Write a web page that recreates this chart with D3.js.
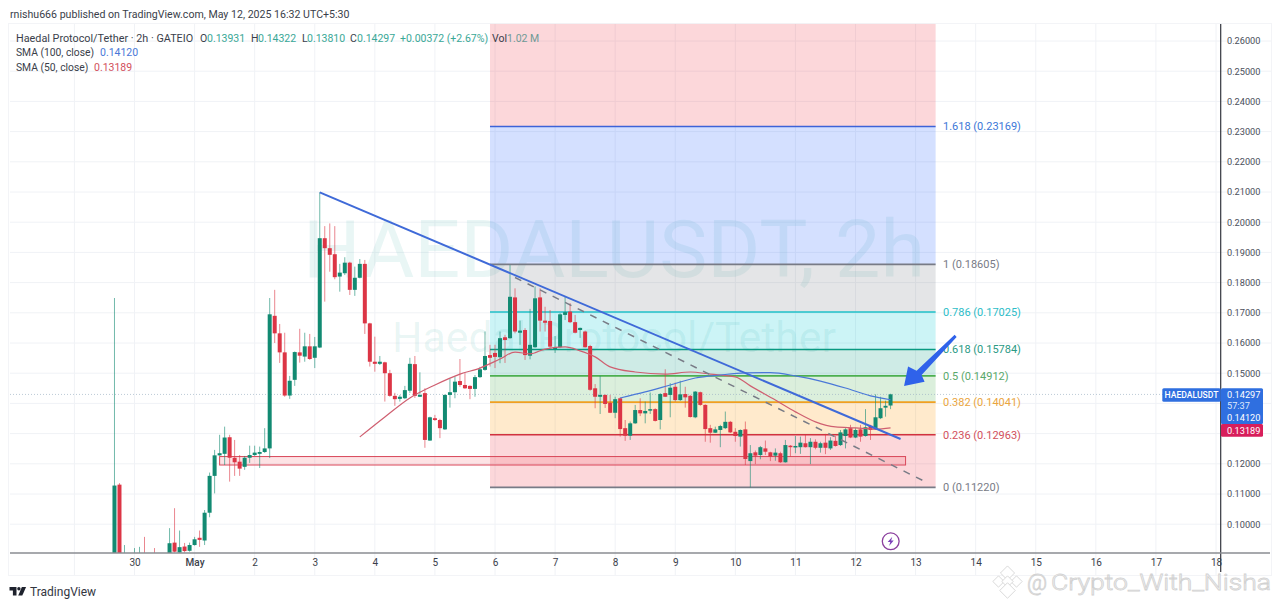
<!DOCTYPE html>
<html>
<head>
<meta charset="utf-8">
<script src="https://cdn.jsdelivr.net/npm/d3@7"></script>
<style>
    html, body { margin: 0; background: #fff; }
    svg { display: block; }
    text { font-family: Roboto, sans-serif; }
</style>
</head>
<body>
<div id="chart"></div>
<script>
// 2h candles, first bar is Apr 29 16:00
const firstBar = Date.UTC(2025, 3, 29, 16);
const barHours = 2;

const opens = [
    .0850,.1131,.0860,.0870,.0860,.0870,.0890,.0870,.0885,.0870,
    .0880,.0890,.0939,.0906,.0926,.0912,.0931,.0955,.0946,.1038,
    .1160,.1228,.1233,.1288,.1220,.1207,.1190,.1220,.1229,.1233,
    .1239,.1251,.1690,.1632,.1569,.1426,.1478,.1569,.1555,.1589,
    .1551,.1585,.1947,.1914,.1894,.1820,.1831,.1866,.1776,.1816,
    .1862,.1665,.1538,.1531,.1536,.1500,.1425,.1415,.1417,.1442,
    .1530,.1422,.1434,.1277,.1351,.1345,.1314,.1428,.1437,.1474,
    .1461,.1458,.1448,.1487,.1511,.1560,.1567,.1553,.1619,.1616,
    .1751,.1634,.1643,.1558,.1586,.1751,.1674,.1673,.1580,.1586,
    .1693,.1704,.1669,.1643,.1638,.1590,.1450,.1422,.1428,.1402,
    .1369,.1417,.1318,.1293,.1334,.1378,.1367,.1376,.1381,.1345,
    .1434,.1428,.1455,.1411,.1431,.1425,.1354,.1437,.1395,.1318,
    .1303,.1312,.1318,.1339,.1306,.1290,.1314,.1209,.1238,.1229,
    .1251,.1238,.1227,.1235,.1205,.1260,.1256,.1255,.1268,.1255,
    .1273,.1253,.1270,.1251,.1276,.1262,.1292,.1318,.1287,.1314,
    .1292,.1326,.1314,.1351,.1386,.1393
];
const closes = [
    .1128,.0850,.0880,.0880,.0880,.0885,.0870,.0880,.0870,.0885,
    .0890,.0937,.0909,.0924,.0911,.0931,.0950,.0948,.1038,.1160,
    .1228,.1235,.1287,.1220,.1205,.1184,.1220,.1229,.1237,.1239,
    .1251,.1695,.1632,.1569,.1426,.1475,.1570,.1558,.1589,.1547,
    .1589,.1947,.1914,.1892,.1818,.1833,.1866,.1776,.1816,.1862,
    .1665,.1538,.1531,.1538,.1500,.1425,.1414,.1422,.1444,.1531,
    .1425,.1428,.1279,.1354,.1345,.1318,.1428,.1437,.1472,.1461,
    .1450,.1448,.1487,.1513,.1557,.1551,.1554,.1616,.1610,.1753,
    .1638,.1641,.1560,.1594,.1748,.1674,.1667,.1588,.1586,.1695,
    .1702,.1669,.1634,.1650,.1586,.1445,.1422,.1428,.1398,.1369,
    .1414,.1315,.1293,.1334,.1378,.1367,.1375,.1381,.1342,.1431,
    .1422,.1452,.1411,.1430,.1420,.1355,.1439,.1395,.1315,.1303,
    .1314,.1325,.1339,.1304,.1292,.1312,.1216,.1235,.1227,.1255,
    .1240,.1224,.1237,.1205,.1262,.1255,.1259,.1270,.1255,.1273,
    .1253,.1268,.1253,.1277,.1259,.1304,.1314,.1287,.1312,.1290,
    .1321,.1312,.1354,.1384,.1392,.1430
];
const highs = [
    .1749,.1136,.0931,.0890,.0921,.0925,.0958,.0895,.0921,.0895,
    .0895,.0987,.1053,.0979,.0938,.0939,.0958,.0979,.1047,.1171,
    .1246,.1296,.1323,.1296,.1279,.1229,.1226,.1260,.1260,.1257,
    .1318,.1749,.1776,.1663,.1634,.1491,.1572,.1647,.1634,.1630,
    .1620,.2099,.1987,.1996,.1987,.1862,.1884,.1869,.1853,.1878,
    .1875,.1667,.1621,.1557,.1538,.1511,.1435,.1428,.1458,.1551,
    .1557,.1503,.1450,.1356,.1362,.1349,.1430,.1483,.1489,.1547,
    .1500,.1460,.1494,.1521,.1638,.1594,.1594,.1638,.1627,.1858,
    .1781,.1674,.1649,.1713,.1787,.1781,.1720,.1709,.1623,.1699,
    .1753,.1732,.1693,.1651,.1641,.1594,.1464,.1491,.1430,.1428,
    .1422,.1420,.1345,.1340,.1395,.1417,.1406,.1436,.1384,.1434,
    .1513,.1467,.1469,.1475,.1455,.1428,.1441,.1439,.1397,.1329,
    .1323,.1329,.1373,.1342,.1318,.1314,.1340,.1262,.1244,.1259,
    .1277,.1240,.1251,.1240,.1279,.1262,.1292,.1290,.1296,.1285,
    .1281,.1273,.1299,.1288,.1292,.1312,.1318,.1329,.1318,.1329,
    .1381,.1329,.1430,.1422,.1409,.1432
];
const lows = [
    .0800,.0800,.0850,.0850,.0840,.0850,.0850,.0850,.0850,.0855,
    .0860,.0870,.0906,.0905,.0906,.0909,.0929,.0925,.0931,.1023,
    .1102,.1226,.1196,.1141,.1160,.1160,.1180,.1203,.1226,.1186,
    .1236,.1219,.1600,.1534,.1422,.1415,.1458,.1535,.1538,.1544,
    .1517,.1583,.1737,.1836,.1811,.1770,.1825,.1759,.1756,.1814,
    .1630,.1522,.1505,.1527,.1406,.1422,.1392,.1406,.1414,.1435,
    .1418,.1421,.1253,.1276,.1342,.1285,.1312,.1386,.1417,.1455,
    .1448,.1414,.1422,.1484,.1508,.1522,.1517,.1533,.1534,.1614,
    .1632,.1594,.1544,.1546,.1584,.1638,.1638,.1583,.1567,.1583,
    .1676,.1666,.1632,.1617,.1585,.1442,.1384,.1365,.1385,.1368,
    .1351,.1290,.1276,.1279,.1332,.1358,.1334,.1365,.1340,.1314,
    .1421,.1354,.1406,.1408,.1386,.1353,.1351,.1392,.1273,.1270,
    .1302,.1255,.1315,.1302,.1273,.1257,.1196,.1122,.1199,.1215,
    .1229,.1209,.1210,.1203,.1204,.1224,.1235,.1233,.1254,.1199,
    .1248,.1237,.1232,.1246,.1257,.1259,.1251,.1285,.1285,.1273,
    .1290,.1279,.1312,.1348,.1356,.1381
];

const sma100Bars = [101, 106, 111, 116, 121, 126, 131, 136, 141, 146, 151, 155];
const sma100Values = [.1418, .1438, .1461, .1484, .1494, .1501, .1502, .1491, .1474, .1451, .1425, .1412];
const sma50Bars = [49, 54, 59, 64, 69, 73, 77, 80, 83, 86, 90, 93, 96, 99, 104, 110, 115, 119, 124, 127, 132, 136, 140, 144, 148, 152, 155];
const sma50Values = [.1289, .1355, .1418, .1461, .1497, .1517, .1547, .1570, .1564, .1580, .1587, .1574, .1554, .1521, .1504, .1497, .1504, .1497, .1488, .1458, .1411, .1372, .1339, .1322, .1319, .1315, .1319];

// fib retracement
const fibLevels = ["0", "0.236", "0.382", "0.5", "0.618", "0.786", "1", "1.618"];
const fibPrices = [.11220, .12963, .14041, .14912, .15784, .17025, .18605, .23169];
const fibColors = ["#787b86", "#d1323f", "#f0a020", "#4caf50", "#089981", "#1fc0c8", "#787b86", "#3d63d8"];
const fibLabelColors = ["#787b86", "#d2505c", "#eaa53e", "#5aa86a", "#2a9a85", "#2dbdc8", "#787b86", "#3d78d8"];
const fibFills = ["#f23645", "#ff9800", "#4caf50", "#089981", "#00c8d0", "#787b86", "#2962ff", "#f23645"];
const fibTopPrice = .26565;
const fibBars = [75, 164];

// drawings on the chart
const trendBars = [41, 157];
const trendPrices = [.2099, .1282];
const dashBars = [80, 162];
const dashPrices = [.1817, .1140];
const zoneBars = [21, 158];
const zonePrices = [.1224, .1196];
const arrowBars = [157.7, 158.5, 160.2, 167.8, 168.2, 161.2, 161.8];
const arrowPrices = [.1458, .1522, .1508, .1627, .1620, .1494, .1472];

const priceTicks = [.10, .11, .12, .13, .14, .15, .16, .17, .18, .19, .20, .21, .22, .23, .24, .25, .26];
// these two sit behind the price tags
const coveredTicks = [.13, .14];
const dayTicks = ["2025-04-30", "2025-05-01", "2025-05-02", "2025-05-03", "2025-05-04", "2025-05-05", "2025-05-06", "2025-05-07", "2025-05-08", "2025-05-09", "2025-05-10", "2025-05-11", "2025-05-12", "2025-05-13", "2025-05-14", "2025-05-15", "2025-05-16", "2025-05-17", "2025-05-18"];
const dayLabels = ["30", "May", "2", "3", "4", "5", "6", "7", "8", "9", "10", "11", "12", "13", "14", "15", "16", "17", "18"];

const lastClose = .14297;
const lastSma100 = .14120;
const lastSma50 = .13189;

const width = 1280;
const height = 607;
const pane = { left: 10, right: 1221, top: 24, bottom: 553 };

const xScale = d3.scaleUtc()
    .domain([new Date(dayTicks[0]), new Date(dayTicks[dayTicks.length - 1])])
    .range([134.5, 1216]);
const yScale = d3.scaleLinear()
    .domain([.10, .26])
    .range([524.2, 41]);

const barTime = (i) => new Date(firstBar + i * barHours * 3600000);
const barX = (i) => xScale(barTime(i));

const svg = d3.select("#chart")
    .append("svg")
    .attr("width", width)
    .attr("height", height);

svg.append("defs").append("clipPath")
    .attr("id", "pane")
    .append("rect")
    .attr("x", pane.left)
    .attr("y", pane.top)
    .attr("width", pane.right - pane.left)
    .attr("height", pane.bottom - pane.top);

// frame and grid
svg.append("rect")
    .attr("x", 8.5)
    .attr("y", 23.5)
    .attr("width", 1263)
    .attr("height", 552)
    .attr("fill", "none")
    .attr("stroke", "#f3f4f7");

const grid = svg.append("g").attr("stroke", "#f0f2f6");
grid.selectAll(".hgrid")
    .data(priceTicks)
    .enter()
    .append("line")
    .attr("x1", pane.left)
    .attr("x2", 1271)
    .attr("y1", d => yScale(d))
    .attr("y2", d => yScale(d));
grid.selectAll(".vgrid")
    .data(["2025-04-29"].concat(dayTicks))
    .enter()
    .append("line")
    .attr("x1", d => xScale(new Date(d)))
    .attr("x2", d => xScale(new Date(d)))
    .attr("y1", pane.top)
    .attr("y2", 575);

// symbol watermark
svg.append("text")
    .attr("x", 303)
    .attr("y", 277)
    .attr("textLength", 622)
    .attr("lengthAdjust", "spacingAndGlyphs")
    .style("font-size", "80px")
    .attr("fill", "#26a69a")
    .attr("fill-opacity", 0.1)
    .text("HAEDALUSDT, 2h");
svg.append("text")
    .attr("x", 392)
    .attr("y", 352)
    .attr("textLength", 444)
    .attr("lengthAdjust", "spacingAndGlyphs")
    .style("font-size", "42px")
    .attr("fill", "#26a69a")
    .attr("fill-opacity", 0.1)
    .text("Haedal Protocol/Tether");

// fib bands, each one runs from its level up to the next
const fib = svg.append("g");
const fibTops = fibPrices.slice(1).concat([fibTopPrice]);
fib.selectAll(".band")
    .data(fibPrices)
    .enter()
    .append("rect")
    .attr("x", barX(fibBars[0]))
    .attr("width", barX(fibBars[1]) - barX(fibBars[0]))
    .attr("y", (d, i) => yScale(fibTops[i]))
    .attr("height", (d, i) => yScale(d) - yScale(fibTops[i]))
    .attr("fill", (d, i) => fibFills[i])
    .attr("fill-opacity", 0.2);
fib.selectAll(".level")
    .data(fibPrices)
    .enter()
    .append("line")
    .attr("x1", barX(fibBars[0]))
    .attr("x2", barX(fibBars[1]))
    .attr("y1", d => yScale(d))
    .attr("y2", d => yScale(d))
    .attr("stroke", (d, i) => fibColors[i])
    .attr("stroke-width", 1.6);
fib.selectAll(".label")
    .data(fibPrices)
    .enter()
    .append("text")
    .attr("x", 943)
    .attr("y", d => yScale(d))
    .attr("dy", "0.36em")
    .attr("fill", (d, i) => fibLabelColors[i])
    .style("font-size", "11px")
    .text((d, i) => `${fibLevels[i]} (${d.toFixed(5)})`);

// last price line
svg.append("line")
    .attr("x1", pane.left)
    .attr("x2", pane.right)
    .attr("y1", yScale(lastClose))
    .attr("y2", yScale(lastClose))
    .attr("stroke", "#9fb4c4")
    .attr("stroke-opacity", 0.7)
    .attr("stroke-dasharray", "1,2");

// support zone
svg.append("rect")
    .attr("x", barX(zoneBars[0]))
    .attr("width", barX(zoneBars[1]) - barX(zoneBars[0]))
    .attr("y", yScale(zonePrices[0]))
    .attr("height", yScale(zonePrices[1]) - yScale(zonePrices[0]))
    .attr("fill", "#f23645")
    .attr("fill-opacity", 0.14)
    .attr("stroke", "#d9485a")
    .attr("stroke-width", 1);

// candles
const chart = svg.append("g").attr("clip-path", "url(#pane)");
const candleColor = (i) => closes[i] >= opens[i] ? "#128a72" : "#dc3545";
const bars = chart.selectAll(".candle")
    .data(opens)
    .enter()
    .append("g")
    .attr("class", "candle");
bars.append("line")
    .attr("x1", (d, i) => barX(i))
    .attr("x2", (d, i) => barX(i))
    .attr("y1", (d, i) => yScale(highs[i]))
    .attr("y2", (d, i) => yScale(lows[i]))
    .attr("stroke", (d, i) => candleColor(i))
    .attr("stroke-opacity", 0.6);
bars.append("rect")
    .attr("x", (d, i) => barX(i) - 2)
    .attr("width", 4)
    .attr("y", (d, i) => yScale(Math.max(opens[i], closes[i])))
    .attr("height", (d, i) => Math.max(1.5, Math.abs(yScale(opens[i]) - yScale(closes[i]))))
    .attr("fill", (d, i) => candleColor(i));

// moving averages
const smaLine = d3.line()
    .x(d => barX(d[0]))
    .y(d => yScale(d[1]))
    .curve(d3.curveMonotoneX);
chart.append("path")
    .attr("d", smaLine(d3.zip(sma50Bars, sma50Values)))
    .attr("fill", "none")
    .attr("stroke", "#cf5f70")
    .attr("stroke-width", 1.2);
chart.append("path")
    .attr("d", smaLine(d3.zip(sma100Bars, sma100Values)))
    .attr("fill", "none")
    .attr("stroke", "#4a78d8")
    .attr("stroke-width", 1.2);

// trend lines
const straight = d3.line().x(d => barX(d[0])).y(d => yScale(d[1]));
svg.append("path")
    .attr("d", straight(d3.zip(dashBars, dashPrices)))
    .attr("stroke", "#787b86")
    .attr("stroke-width", 1.5)
    .attr("stroke-dasharray", "7,7");
svg.append("path")
    .attr("d", straight(d3.zip(trendBars, trendPrices)))
    .attr("stroke", "#3f6ad8")
    .attr("stroke-width", 2);

// hand drawn arrow
svg.append("path")
    .attr("d", straight(d3.zip(arrowBars, arrowPrices)) + "Z")
    .attr("fill", "#2f62ea");

// price axis
svg.append("line")
    .attr("x1", 1220.7)
    .attr("x2", 1220.7)
    .attr("y1", pane.top)
    .attr("y2", 572)
    .attr("stroke", "#33363f")
    .attr("stroke-width", 1.2);
const yAxis = svg.append("g")
    .attr("transform", "translate(1221,0)")
    .call(d3.axisRight(yScale)
        .tickValues(priceTicks.filter(d => !coveredTicks.includes(d)))
        .tickSize(0)
        .tickPadding(6)
        .tickFormat(d3.format(".5f")));
yAxis.select(".domain").remove();
yAxis.selectAll("text")
    .attr("fill", "#4a4e5a")
    .style("font-size", "9.2px")
    .style("font-family", "Roboto, sans-serif");

// time axis
const xAxis = svg.append("g")
    .attr("transform", `translate(0,${pane.bottom})`)
    .call(d3.axisBottom(xScale)
        .tickValues(dayTicks.map(d => new Date(d)))
        .tickSize(0)
        .tickPadding(6)
        .tickFormat((d, i) => dayLabels[i]));
xAxis.select(".domain").remove();
xAxis.selectAll("text")
    .attr("fill", "#3a3e4a")
    .style("font-size", "10px")
    .style("font-weight", (d, i) => dayLabels[i] === "May" ? "500" : "400")
    .style("font-family", "Roboto, sans-serif");
svg.append("line")
    .attr("x1", pane.left)
    .attr("x2", 1270)
    .attr("y1", pane.bottom)
    .attr("y2", pane.bottom)
    .attr("stroke", "#8a8c92")
    .attr("stroke-width", 1.4);

// price tags on the axis
svg.append("rect")
    .attr("x", 1162.3).attr("y", 388.3).attr("width", 58.5).attr("height", 13.4)
    .attr("rx", 1.5).attr("fill", "#2f6fe0");
svg.append("text")
    .attr("x", 1191.5).attr("y", 398.4).attr("text-anchor", "middle")
    .attr("fill", "#fff").style("font-size", "8.6px").style("font-weight", "500")
    .text("HAEDALUSDT");
svg.append("rect")
    .attr("x", 1221).attr("y", 388.3).attr("width", 42).attr("height", 35.7)
    .attr("rx", 1.5).attr("fill", "#2f6fe0");
svg.append("rect")
    .attr("x", 1221).attr("y", 424).attr("width", 42).attr("height", 12.7)
    .attr("rx", 1.5).attr("fill", "#d81e5b");
const tagRows = [[lastClose.toFixed(5), 398.3, "#fff"], ["57:37", 408.5, "#dfe8fb"], [lastSma100.toFixed(5), 421.3, "#fff"], [lastSma50.toFixed(5), 433.8, "#fff"]];
svg.selectAll(".tag")
    .data(tagRows)
    .enter()
    .append("text")
    .attr("x", 1227)
    .attr("y", d => d[1])
    .attr("fill", d => d[2])
    .style("font-size", "9.2px")
    .text(d => d[0]);

// header
const addText = (x, y, str, color, size) => svg.append("text")
    .attr("x", x)
    .attr("y", y)
    .attr("dy", "0.36em")
    .attr("fill", color)
    .style("font-size", (size || 10.5) + "px")
    .text(str);

const dark = "#3a3e4a";
const teal = "#3aa897";
addText(10, 14, "rnishu666 published on TradingView.com, May 12, 2025 16:32 UTC+5:30", dark, 10.6);
addText(16, 38, "Haedal Protocol/Tether · 2h · GATEIO", dark, 10.8);
addText(200, 38, "O", dark);
addText(207, 38, "0.13931", teal);
addText(251, 38, "H", dark);
addText(258, 38, "0.14322", teal);
addText(302, 38, "L", dark);
addText(307, 38, "0.13810", teal);
addText(350, 38, "C", dark);
addText(357, 38, "0.14297", teal);
addText(400, 38, "+0.00372 (+2.67%)", teal);
addText(492, 38, "Vol", dark);
addText(507, 38, "1.02 M", "#6f9a96");
addText(16, 52.7, "SMA (100, close)", dark, 10.3);
addText(100, 52.7, "0.14120", "#4a78d8");
addText(16, 67.3, "SMA (50, close)", dark, 10.3);
addText(94, 67.3, "0.13189", "#d2505c");

// lightning badge
const badge = svg.append("g").attr("transform", "translate(890.7,541.3)");
badge.append("circle")
    .attr("r", 8.4)
    .attr("fill", "#fff")
    .attr("stroke", "#8b3f9e")
    .attr("stroke-width", 1.3);
badge.append("path")
    .attr("d", "M1.6,-4.6 L-3,0.8 L-0.4,0.8 L-1.6,4.6 L3,-0.8 L0.4,-0.8 Z")
    .attr("fill", "#7b3fb8");

// TradingView logo
const logo = svg.append("g").attr("transform", "translate(9.5,587)").attr("fill", "#1e222d");
logo.append("path").attr("d", "M0,0 H7 V8.6 H3.4 V3.4 H0 Z");
logo.append("circle").attr("cx", 9.4).attr("cy", 1.7).attr("r", 1.7);
logo.append("path").attr("d", "M12.4,0 H16.6 L12.8,8.6 H8.7 Z");
addText(30, 592, "TradingView", "#33363f", 12);

// repost watermark, bottom right
const mark = svg.append("g")
    .attr("fill", "#fff")
    .attr("stroke", "#d2d2d2")
    .attr("stroke-width", 0.8);
[[1007.5, 573, 5], [998.5, 581.5, 4], [1016.5, 581.5, 4], [1007.5, 581.5, 4], [1007.5, 590.5, 5.5]].forEach(d => {
    mark.append("rect")
        .attr("x", -d[2]).attr("y", -d[2])
        .attr("width", d[2] * 2).attr("height", d[2] * 2)
        .attr("transform", `translate(${d[0]},${d[1]}) rotate(45)`);
});
mark.append("text")
    .attr("x", 1027)
    .attr("y", 590)
    .style("font-size", "22px")
    .style("font-weight", "300")
    .text("@");
mark.append("text")
    .attr("x", 1051)
    .attr("y", 590)
    .attr("textLength", 220)
    .attr("lengthAdjust", "spacingAndGlyphs")
    .style("font-size", "22px")
    .style("font-weight", "300")
    .text("Crypto_With_Nisha");
</script>
</body>
</html>
